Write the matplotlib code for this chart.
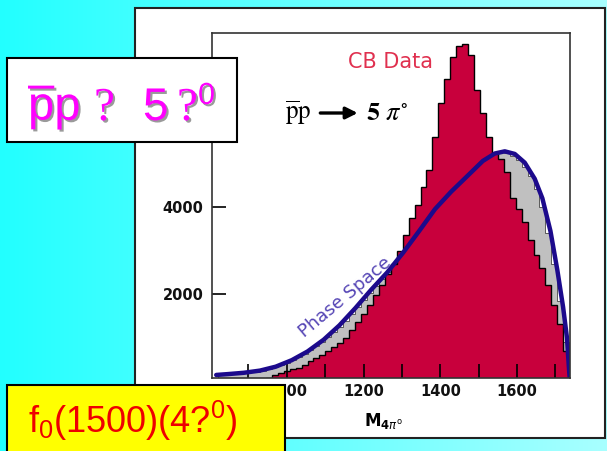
import numpy as np
import matplotlib.pyplot as plt
import matplotlib.patheffects as pe
from matplotlib.patches import Rectangle
from matplotlib.colors import LinearSegmentedColormap
from matplotlib.ticker import MultipleLocator

# fonts for the "custom" mathtext set (used in the overlay labels only)
plt.rcParams['mathtext.rm'] = 'Liberation Sans'
plt.rcParams['mathtext.it'] = 'Liberation Sans:italic'
plt.rcParams['mathtext.bf'] = 'Liberation Sans:bold'

# 4pi0 invariant mass bins (MeV)
mass_edges = np.arange(806, 1737, 15.5)

# Crystal Barrel data, events per bin
cb_counts = [0, 0, 0, 0, 0, 0, 0, 0, 0,
             60, 130, 180, 230, 270, 300, 360, 450, 530, 600,
             690, 780, 880, 1000, 1180, 1350, 1550, 1750, 1980, 2200,
             2450, 2700, 3000, 3350, 3750, 4050, 4450, 4850, 5600, 6400,
             6950, 7450, 7700, 7750, 7500, 6700, 6150, 5600, 5250, 5100,
             4800, 4200, 3950, 3650, 3250, 2900, 2600, 2200, 1750, 1300,
             700]

# phase space Monte Carlo, same binning
ps_counts = [0, 130, 150, 160, 170, 185, 200, 215, 240, 270,
             315, 380, 420, 480, 550, 630, 710, 800, 900, 1010,
             1130, 1250, 1390, 1540, 1700, 1860, 2020, 2180, 2340, 2510,
             2680, 2850, 3030, 3220, 3400, 3590, 3770, 3940, 4100, 4260,
             4400, 4540, 4660, 4780, 4990, 5080, 5150, 5220, 5260, 5250,
             5180, 5080, 4930, 4720, 4420, 4000, 3400, 2700, 1850, 900]

# phase space curve
ps_mass = [816, 847, 888, 930, 971, 1013, 1054, 1096, 1137, 1179,
           1220, 1262, 1303, 1345, 1386, 1428, 1469, 1511, 1542, 1568,
           1594, 1620, 1646, 1666, 1687, 1705, 1720, 1730, 1736, 1738]
ps_curve = [140, 160, 190, 240, 330, 480, 680, 950, 1280, 1680,
            2100, 2500, 2950, 3450, 3950, 4350, 4700, 5060, 5230, 5280,
            5220, 5020, 4650, 4200, 3450, 2550, 1700, 1000, 200, 0]

W, H = 607, 451


def fx(px):
    return px / W


def fy(py):
    return 1 - py / H


fig = plt.figure(figsize=(W / 100, H / 100), dpi=100)

# cyan slide background and the white frame around the plot
bg = fig.add_axes([0, 0, 1, 1], zorder=-2)
cyan = LinearSegmentedColormap.from_list('cyan', ['#22ffff', '#a8ffff'])
bg.imshow(np.linspace(0, 1, 256)[None, :], aspect='auto', cmap=cyan,
          extent=[0, 1, 0, 1])
bg.set_xlim(0, 1)
bg.set_ylim(0, 1)
bg.axis('off')
bg.add_patch(Rectangle((fx(135), fy(438)), fx(605) - fx(135), fy(8) - fy(438),
                       facecolor='white', edgecolor='#222222', lw=1.5))

ax = fig.add_axes([fx(212), fy(378), fx(570) - fx(212), fy(33) - fy(378)])
ax.stairs(ps_counts, mass_edges, fill=True, facecolor='#c0c0c0',
          edgecolor='#444444', lw=0.6)
ax.stairs(cb_counts, mass_edges, fill=True, facecolor='#c8003c',
          edgecolor='black', lw=1.0)
ax.plot(ps_mass, ps_curve, color='#1c0a8c', lw=3.2, solid_capstyle='round')

ax.set_xlim(805, 1738)
ax.set_ylim(70, 8000)
ax.xaxis.set_major_locator(MultipleLocator(200))
ax.xaxis.set_minor_locator(MultipleLocator(100))
ax.set_yticks([2000, 4000, 6000])
ax.tick_params(which='both', direction='in', length=10, width=1.2,
               labelsize=10.5, labelcolor='#111111')
ax.tick_params(axis='x', pad=4)
ax.tick_params(axis='y', pad=6)
for lab in ax.get_xticklabels() + ax.get_yticklabels():
    lab.set_fontweight('bold')
for sp in ax.spines.values():
    sp.set_linewidth(1.2)
    sp.set_color('#333333')

ax.set_xlabel(r'$\mathbf{M}_{\mathbf{4}\pi^{\mathrm{o}}}$', fontsize=12,
              labelpad=9, x=0.48)

ax.text(1271, 7333, 'CB Data', color='#e0304f', fontsize=15,
        ha='center', va='center')
ax.text(995, 6161, r'$\overline{\mathrm{p}}\mathrm{p}$', math_fontfamily='stix',
        fontsize=18, va='center', ha='left')
ax.annotate('', xy=(1192, 6161), xytext=(1080, 6161),
            arrowprops=dict(arrowstyle='-|>,head_length=0.7,head_width=0.35',
                            color='black', lw=2.4))
ax.text(1206, 6161, r'$\mathbf{5}\ \pi^{\circ}$', math_fontfamily='stix',
        fontsize=19, va='center', ha='left')
ax.text(1151, 1932, 'Phase Space', rotation=40, color='#5545b5',
        fontsize=13, ha='center', va='center', rotation_mode='anchor')

# overlay boxes on top of the plot
fig.add_artist(Rectangle((fx(7), fy(142)), fx(237) - fx(7), fy(58) - fy(142),
                         transform=fig.transFigure, facecolor='white',
                         edgecolor='black', lw=1.5, zorder=3))
fig.add_artist(Rectangle((fx(7), fy(460)), fx(285) - fx(7), fy(385) - fy(460),
                         transform=fig.transFigure, facecolor='#ffff00',
                         edgecolor='black', lw=1.5, zorder=3))

shadow = [pe.SimplePatchShadow(offset=(1.5, -1.5), shadow_rgbFace='#9a9a9a',
                               alpha=1), pe.Normal()]
mag = dict(color='#ff00ff', va='baseline', path_effects=shadow, zorder=4)
fig.text(fx(28), fy(120), r'$\overline{\mathrm{p}}\mathrm{p}$',
         math_fontfamily='custom', fontsize=34, **mag)
fig.text(fx(94), fy(120), '?', family='Liberation Serif', fontsize=34, **mag)
fig.text(fx(143), fy(120), '5', family='Liberation Sans', fontsize=33, **mag)
fig.text(fx(177), fy(120), '?', family='Liberation Serif', fontsize=34, **mag)
fig.text(fx(198), fy(104), '0', family='Liberation Sans', fontsize=22, **mag)

fig.text(fx(28), fy(433), r'f$_0$(1500)(4?$^0$)', family='Liberation Sans',
         math_fontfamily='custom', fontsize=26, color='#ee0000',
         va='baseline', zorder=4)

fig.savefig('out.png', dpi=100)
